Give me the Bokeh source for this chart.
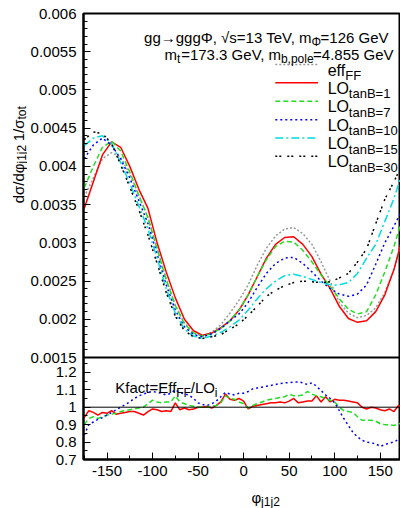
import math
from bokeh.plotting import figure
from bokeh.layouts import column, row
from bokeh.models import Label, Span, FixedTicker, Range1d
from bokeh.core.properties import value
from bokeh.embed import file_html
from bokeh.resources import INLINE

# ---------------- data ----------------
phi = [-175, -165, -155, -145, -135, -125, -115, -105, -95, -85, -75, -65, -55, -45,
       -35, -25, -15, -5, 5, 15, 25, 35, 45, 55, 65, 75, 85, 95, 105, 115, 125, 135,
       145, 155, 165, 175]

eff_ff = [0.00360, 0.00385, 0.00410, 0.00418, 0.00412, 0.00390, 0.00362, 0.00333, 0.00293,
          0.00253, 0.00218, 0.00195, 0.00182, 0.00178, 0.00183, 0.00193, 0.00208, 0.00225,
          0.00245, 0.00271, 0.00293, 0.00309, 0.00318, 0.00320, 0.00312, 0.00298, 0.00275,
          0.00250, 0.00222, 0.00208, 0.00202, 0.00205, 0.00215, 0.00235, 0.00265, 0.00305]
lo_tanb1 = [0.00345, 0.00380, 0.00415, 0.00432, 0.00425, 0.00400, 0.00370, 0.00345, 0.00300,
            0.00262, 0.00228, 0.00200, 0.00185, 0.00179, 0.00182, 0.00189, 0.00198, 0.00212,
            0.00232, 0.00256, 0.00280, 0.00298, 0.00307, 0.00308, 0.00298, 0.00282, 0.00259,
            0.00240, 0.00217, 0.00201, 0.00196, 0.00198, 0.00210, 0.00232, 0.00265, 0.00310]
lo_tanb7 = [0.00372, 0.00400, 0.00425, 0.00433, 0.00420, 0.00393, 0.00362, 0.00333, 0.00292,
            0.00252, 0.00218, 0.00194, 0.00182, 0.00178, 0.00181, 0.00188, 0.00198, 0.00212,
            0.00232, 0.00256, 0.00278, 0.00295, 0.00302, 0.00301, 0.00290, 0.00275, 0.00258,
            0.00243, 0.00227, 0.00213, 0.00207, 0.00210, 0.00232, 0.00262, 0.00295, 0.00335]
lo_tanb10 = [0.00410, 0.00428, 0.00437, 0.00428, 0.00410, 0.00385, 0.00355, 0.00325, 0.00285,
             0.00245, 0.00212, 0.00190, 0.00180, 0.00177, 0.00181, 0.00188, 0.00198, 0.00207,
             0.00222, 0.00242, 0.00260, 0.00273, 0.00280, 0.00281, 0.00273, 0.00262, 0.00250,
             0.00240, 0.00233, 0.00230, 0.00233, 0.00245, 0.00272, 0.00300, 0.00322, 0.00345]
lo_tanb15 = [0.00427, 0.00437, 0.00440, 0.00430, 0.00405, 0.00378, 0.00348, 0.00318, 0.00280,
             0.00240, 0.00208, 0.00187, 0.00178, 0.00175, 0.00178, 0.00183, 0.00190, 0.00199,
             0.00212, 0.00227, 0.00240, 0.00250, 0.00257, 0.00259, 0.00256, 0.00252, 0.00248,
             0.00245, 0.00245, 0.00248, 0.00260, 0.00280, 0.00298, 0.00328, 0.00358, 0.00395]
lo_tanb30 = [0.00435, 0.00445, 0.00443, 0.00430, 0.00402, 0.00373, 0.00343, 0.00310, 0.00273,
             0.00235, 0.00204, 0.00185, 0.00177, 0.00175, 0.00177, 0.00180, 0.00187, 0.00194,
             0.00205, 0.00217, 0.00230, 0.00238, 0.00244, 0.00248, 0.00250, 0.00249, 0.00248,
             0.00249, 0.00254, 0.00260, 0.00275, 0.00292, 0.00325, 0.00357, 0.00380, 0.00405]

phi_ratio = [-175, -170, -165, -160, -155, -150, -145, -140, -135, -130, -125, -120, -115,
             -110, -105, -100, -95, -90, -85, -80, -75, -70, -65, -60, -55, -50, -45, -40,
             -35, -30, -25, -20, -15, -10, -5, 0, 5, 10, 15, 20, 25, 30, 35, 40, 45, 50, 55,
             60, 65, 70, 75, 80, 85, 90, 95, 100, 105, 110, 115, 120, 125, 130, 135, 140,
             145, 150, 155, 160, 165, 170, 175]
kfact_tanb1 = [0.94, 0.98, 0.97, 0.955, 0.97, 0.965, 0.98, 0.96, 0.965, 0.97, 0.975, 0.975,
               0.965, 0.955, 0.975, 0.99, 0.985, 0.975, 0.98, 0.975, 1.025, 0.985, 0.995,
               0.985, 0.99, 1.0, 1.0, 1.005, 0.995, 1.01, 1.03, 1.075, 1.045, 1.04, 1.05,
               1.035, 0.99, 1.005, 1.01, 1.015, 1.02, 1.025, 1.025, 1.03, 1.025, 1.035, 1.05,
               1.025, 1.03, 1.035, 1.035, 1.065, 1.03, 1.06, 1.03, 1.045, 1.04, 1.04, 1.035,
               1.03, 1.025, 1.0, 0.99, 1.0, 0.995, 0.985, 0.98, 0.99, 0.975, 1.01, 1.0]
kfact_tanb7 = [0.90, 0.935, 0.945, 0.935, 0.945, 0.955, 0.96, 0.965, 0.975, 0.98, 0.985, 0.99,
               0.995, 1.0, 1.02, 1.04, 1.03, 1.025, 1.03, 1.03, 1.065, 1.03, 1.02, 1.01,
               1.005, 1.0, 1.0, 1.0, 1.005, 1.01, 1.025, 1.065, 1.05, 1.045, 1.03, 1.02, 0.995,
               1.01, 1.02, 1.03, 1.04, 1.045, 1.05, 1.055, 1.06, 1.075, 1.065, 1.065, 1.07,
               1.09, 1.075, 1.065, 1.06, 1.05, 1.04, 1.03, 1.0, 0.98, 0.975, 0.97, 0.945,
               0.925, 0.925, 0.925, 0.92, 0.905, 0.9, 0.9, 0.895, 0.905, 0.91]
kfact_tanb10 = [0.84, 0.90, 0.915, 0.93, 0.94, 0.955, 0.97, 0.985, 1.0, 1.015, 1.03, 1.05,
                1.065, 1.075, 1.085, 1.09, 1.085, 1.08, 1.07, 1.08, 1.10, 1.085, 1.075, 1.07,
                1.05, 1.025, 1.015, 1.01, 1.02, 1.035, 1.06, 1.085, 1.075, 1.07, 1.08, 1.08,
                1.09, 1.105, 1.11, 1.115, 1.12, 1.125, 1.13, 1.135, 1.14, 1.14, 1.145, 1.145,
                1.14, 1.13, 1.14, 1.12, 1.095, 1.07, 1.05, 1.025, 0.98, 0.935, 0.895, 0.855,
                0.83, 0.81, 0.80, 0.795, 0.79, 0.775, 0.785, 0.795, 0.80, 0.815, 0.825]

x_ticks = [-150, -100, -50, 0, 50, 100, 150]
x_tick_labels = ["-150", "-100", "-50", "0", "50", "100", "150"]
y_ticks_top = [0.0015, 0.002, 0.0025, 0.003, 0.0035, 0.004, 0.0045, 0.005, 0.0055, 0.006]
y_tick_labels_top = ["0.0015", "0.002", "0.0025", "0.003", "0.0035", "0.004", "0.0045",
                     "0.005", "0.0055", "0.006"]
y_ticks_bottom = [0.7, 0.8, 0.9, 1.0, 1.1, 1.2]
y_tick_labels_bottom = ["0.7", "0.8", "0.9", "1", "1.1", "1.2"]

# ---------------- geometry / style ----------------
FONT = "Liberation Sans"
PAGE_H = 508
YLAB_W = 27                      # strip holding the rotated y label
L_PX, R_PX = 81, 400             # frame left/right (page px)
T_PX, S_PX, B_PX = 13, 357, 459  # frame top, panel separator, frame bottom
AX_H = 25                        # room for x tick labels below the frame
X0, X1 = -175.8, 172.2
YT0, YT1 = 0.0015, 0.006         # upper panel range
YB0, YB1 = 0.7, 1.285            # lower panel range

per_px_top = (YT1 - YT0) / (S_PX - T_PX)
Y_LO = YT0 - (B_PX - S_PX) * per_px_top
per_px_bot = (YB1 - YB0) / (B_PX - S_PX)
R_HI = YB0 + (B_PX - T_PX) * per_px_bot


def dx(px):
    return X0 + (px - L_PX) * (X1 - X0) / (R_PX - L_PX)


def dy(py):
    return YT1 - (py - T_PX) * per_px_top


def ratio_to_main(r):
    return Y_LO + (r - YB0) / (R_HI - YB0) * (YT1 - Y_LO)


W = {' ': 278, ',': 278, '.': 278, '/': 278, '-': 333, '=': 584, '(': 333, ')': 333,
     'A': 667, 'B': 667, 'E': 667, 'F': 611, 'G': 778, 'K': 667, 'L': 556, 'O': 778,
     'T': 611, 'V': 667, 'a': 556, 'b': 556, 'c': 500, 'd': 556, 'e': 556, 'f': 278,
     'g': 556, 'i': 222, 'j': 222, 'l': 222, 'm': 833, 'n': 556, 'o': 556, 'p': 556,
     's': 500, 't': 278, 'u': 556, 'x': 500, 'σ': 570, 'φ': 650, 'Φ': 780, '→': 1000,
     '√': 550}
for c in "0123456789":
    W[c] = 556


def tw(s, size):
    return sum(W.get(c, 556) for c in s) / 1000.0 * size


def lab(p, x_px, y_px, t, size, align="left"):
    p.add_layout(Label(x=dx(x_px), y=dy(y_px), text=t, text_font=FONT,
                       text_font_size=f"{size}px", text_baseline="alphabetic",
                       text_align=align, text_color="black"))


def add_left(p, pieces, x_px, base_px):
    x = x_px
    for t, s, d in pieces:
        lab(p, x, base_px + d, t, s)
        x += tw(t, s)


def add_right(p, pieces, x_px, base_px):
    x = x_px
    for t, s, d in reversed(pieces):
        lab(p, x, base_px + d, t, s, align="right")
        x -= tw(t, s)


def style_axis(ax, standoff):
    ax.axis_line_width = 2
    ax.major_tick_in = 7
    ax.major_tick_out = 0
    ax.minor_tick_in = 4
    ax.minor_tick_out = 0
    ax.major_label_text_font = FONT
    ax.major_label_text_font_size = "15px"
    ax.major_label_text_color = "black"
    ax.major_label_standoff = standoff


MAIN = 15
SUB = 12

series = [
    ("eff", "FF", eff_ff, "#999999", "2 2"),
    ("LO", "tanB=1", lo_tanb1, "#ff0000", "solid"),
    ("LO", "tanB=7", lo_tanb7, "#22dd22", "5 3"),
    ("LO", "tanB=10", lo_tanb10, "#0000ff", "2 3"),
    ("LO", "tanB=15", lo_tanb15, "#00dddd", "8 3 2 3"),
    ("LO", "tanB=30", lo_tanb30, "#000000", "2 2 2 6"),
]

# ---------------- main plot (both panels share one frame) ----------------
p = figure(width=400 - YLAB_W, height=B_PX + AX_H,
           x_range=Range1d(X0, X1), y_range=Range1d(Y_LO, YT1),
           output_backend="svg", toolbar_location=None,
           min_border_left=L_PX - YLAB_W, min_border_right=0,
           min_border_top=T_PX, min_border_bottom=AX_H)
p.extra_y_ranges = {"ratio": Range1d(YB0, R_HI)}
p.grid.visible = False
p.outline_line_color = "black"
p.outline_line_width = 2
p.background_fill_color = "white"
p.border_fill_color = "white"

ya = p.yaxis[0]
minor_top = [round(0.0015 + i * 0.0001, 5) for i in range(46)]
minor_bot = [ratio_to_main(round(0.7 + i * 0.05, 3)) for i in range(12)]
ticks_bot = [ratio_to_main(r) for r in y_ticks_bottom]
ya.ticker = FixedTicker(ticks=y_ticks_top + ticks_bot, minor_ticks=minor_top + minor_bot)
overrides = {t: s for t, s in zip(y_ticks_top, y_tick_labels_top)}
overrides.update({t: s for t, s in zip(ticks_bot, y_tick_labels_bottom)})
ya.major_label_overrides = overrides
style_axis(ya, 7)

xa = p.xaxis[0]
xa.ticker = FixedTicker(ticks=x_ticks, minor_ticks=list(range(-175, 200, 25)))
xa.major_label_overrides = {t: s for t, s in zip(x_ticks, x_tick_labels)}
style_axis(xa, 6)

p.add_layout(Span(location=YT0, dimension="width", line_color="black", line_width=2))
p.add_layout(Span(location=1.0, dimension="width", line_color="black", line_width=1,
                  y_range_name="ratio"))

for main, sub, ys, col, dash in series:
    p.line(phi, ys, line_color=col, line_width=1.5, line_dash=dash)

p.line(phi_ratio, kfact_tanb1, line_color="#ff0000", line_width=1.5, y_range_name="ratio")
p.line(phi_ratio, kfact_tanb7, line_color="#22dd22", line_width=1.5, line_dash="5 3",
       y_range_name="ratio")
p.line(phi_ratio, kfact_tanb10, line_color="#0000ff", line_width=1.5, line_dash="2 3",
       y_range_name="ratio")

row_px = [64, 82.3, 100.8, 119.2, 137.5, 155.8]
for (main, sub, ys, col, dash), ry in zip(series, row_px):
    p.line([dx(274), dx(317)], [dy(ry), dy(ry)], line_color=col, line_width=1.5,
           line_dash=dash)
    add_left(p, [(main, 16, 0), (sub, 13, 5.5)], 326.7, ry + 5.5)

add_right(p, [("gg→gggΦ, √s=13 TeV, m", MAIN, 0), ("Φ", SUB, 4), ("=126 GeV", MAIN, 0)],
          388, 37)
add_right(p, [("m", MAIN, 0), ("t", SUB, 4), ("=173.3 GeV, m", MAIN, 0),
              ("b,pole", SUB, 4), ("=4.855 GeV", MAIN, 0)], 393, 54)

add_left(p, [("Kfact=Eff", MAIN, 0), ("FF", SUB, 5), ("/LO", MAIN, 0), ("i", SUB, 5)],
         113, 387)

# ---------------- strip with the rotated y label ----------------
py = figure(width=YLAB_W, height=PAGE_H, x_range=Range1d(0, YLAB_W),
            y_range=Range1d(0, PAGE_H), output_backend="svg", toolbar_location=None,
            x_axis_location=None, y_axis_location=None, min_border=0)
py.grid.visible = False
py.outline_line_color = None


def vtext(fig, x, page_y, t, size, align):
    fig.text(x=[x], y=[PAGE_H - page_y], text=[t], angle=math.pi / 2,
             text_font=value(FONT), text_font_size=value(f"{size}px"),
             text_align=value(align), text_baseline=value("alphabetic"),
             text_color="black")


P_END = 163
vtext(py, 18, P_END, "dσ/dφ", MAIN, "right")
vtext(py, 21, P_END, "j1j2", SUB, "left")
q = P_END - tw("j1j2", SUB) - tw(" ", MAIN) - tw("1/σ", MAIN)
vtext(py, 18, q, "1/σ", MAIN, "right")
vtext(py, 21, q, "tot", SUB, "left")

# ---------------- strip with the x label ----------------
XL_TOP = B_PX + AX_H
px_ = figure(width=400 - YLAB_W, height=PAGE_H - XL_TOP, x_range=Range1d(YLAB_W, 400),
             y_range=Range1d(0, PAGE_H - XL_TOP), output_backend="svg",
             toolbar_location=None, x_axis_location=None, y_axis_location=None,
             min_border=0)
px_.grid.visible = False
px_.outline_line_color = None


def htext(fig, x, page_y, t, size, align):
    fig.text(x=[x], y=[PAGE_H - page_y], text=[t], text_font=value(FONT),
             text_font_size=value(f"{size}px"), text_align=value(align),
             text_baseline=value("alphabetic"), text_color="black")


htext(px_, 236, 497, "φ", MAIN, "right")
htext(px_, 236, 501, "j1j2", SUB, "left")

layout = row(py, column(p, px_, spacing=0), spacing=0)
open("out.html", "w").write(file_html(layout, INLINE))
